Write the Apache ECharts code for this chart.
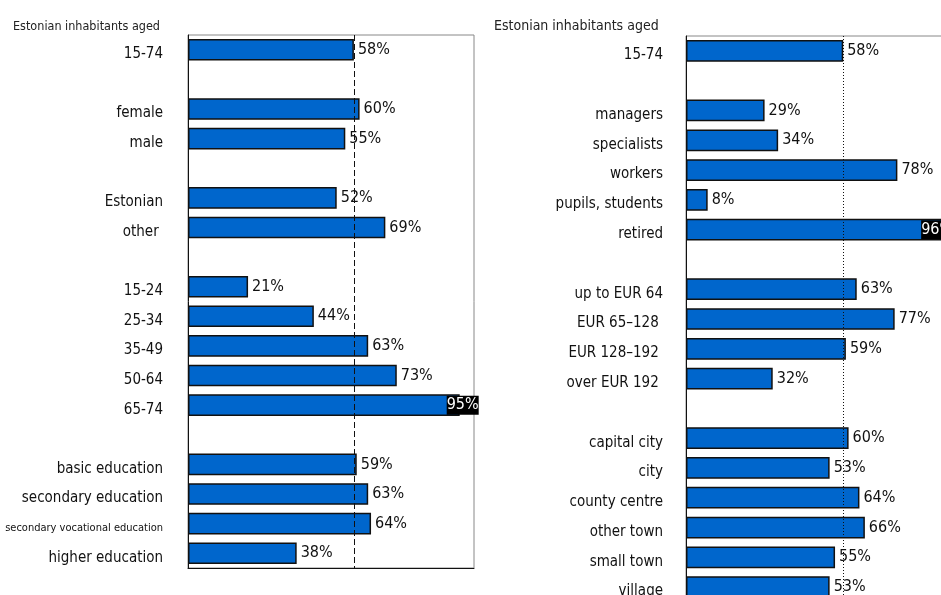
<!DOCTYPE html>
<html>
<head>
<meta charset="utf-8">
<script src="https://cdn.jsdelivr.net/npm/echarts@6/dist/echarts.min.js"></script>
<style>
  html, body { margin: 0; padding: 0; background: #fff; }
  #chart { width: 941px; height: 595px; }
</style>
</head>
<body>
<div id="chart"></div>
<script>
// left panel: by sex, nationality, age, education
const leftCategories = [
  '15-74', '',
  'female', 'male', '',
  'Estonian', 'other ', '',
  '15-24', '25-34', '35-49', '50-64', '65-74', '',
  'basic education', 'secondary education', 'secondary vocational education', 'higher education'
]
const leftValues = [58, null, 60, 55, null, 52, 69, null, 21, 44, 63, 73, 95, null, 59, 63, 64, 38]

// right panel: by occupation, income, place of residence
const rightCategories = [
  '15-74', '',
  'managers', 'specialists', 'workers', 'pupils, students', 'retired', '',
  'up to EUR 64', 'EUR 65\u2013128 ', 'EUR 128\u2013192 ', 'over EUR 192 ', '',
  'capital city', 'city', 'county centre', 'other town', 'small town', 'village'
]
const rightValues = [58, null, 29, 34, 78, 8, 96, null, 63, 77, 59, 32, null, 60, 53, 64, 66, 55, 53]

const averageValue = 58
const titleText = 'Estonian inhabitants aged'

const font = "'Liberation Sans Narrow', 'DejaVu Sans Condensed', sans-serif"
const barColor = '#0066CC'

function barData(values, hiOffset) {
  return values.map(v => {
    if (v === null) return '-'
    if (v > 90) {
      return {
        value: v,
        label: {
          color: '#fff',
          backgroundColor: '#000',
          padding: [2, 0, 1, 0],
          offset: [hiOffset, 0]
        }
      }
    }
    return v
  })
}

function categoryLabel(value) {
  return value === 'secondary vocational education' ? '{small|' + value + '}' : value
}

function makeSeries(idx, values, lineType, hiOffset) {
  return {
    type: 'bar',
    xAxisIndex: idx,
    yAxisIndex: idx,
    data: barData(values, hiOffset),
    barCategoryGap: '27%',
    itemStyle: {
      color: barColor,
      borderColor: '#111',
      borderWidth: 1.5
    },
    label: {
      show: true,
      position: 'right',
      distance: 4,
      formatter: '{c}%',
      fontFamily: font,
      fontSize: 16,
      color: '#111'
    },
    markLine: {
      silent: true,
      symbol: 'none',
      label: { show: false },
      lineStyle: { color: '#111', type: lineType, width: 1 },
      data: [{ xAxis: averageValue }]
    },
    z: 3
  }
}

const chart = echarts.init(document.getElementById('chart'))

function yAxisBase(margin) {
  return {
    type: 'category',
    inverse: true,
    axisTick: { show: false },
    axisLine: { show: true, lineStyle: { color: '#111', width: 1 } },
    axisLabel: {
      fontFamily: font,
      fontSize: 15,
      color: '#111',
      margin: margin,
      padding: [9, 0, 0, 0],
      formatter: categoryLabel,
      rich: {
        small: { fontFamily: font, fontSize: 11, color: '#111' }
      }
    }
  }
}

const xAxisBase = {
  type: 'value',
  min: 0,
  max: 100,
  axisLabel: { show: false },
  axisTick: { show: false },
  splitLine: { show: false },
  axisLine: { show: true, lineStyle: { color: '#111', width: 1 } }
}

chart.setOption({
  animation: false,
  textStyle: { fontFamily: font },
  title: [
    { text: titleText, left: 8, top: 15, textStyle: { fontFamily: font, fontSize: 12.5, fontWeight: 'normal', color: '#222' } },
    { text: titleText, left: 489, top: 14, textStyle: { fontFamily: font, fontSize: 14, fontWeight: 'normal', color: '#222' } }
  ],
  grid: [
    { left: 188, top: 35, width: 286, height: 533, outerBoundsMode: 'none', show: true, borderColor: '#888', borderWidth: 1 },
    { left: 686, top: 36, width: 271, height: 566, outerBoundsMode: 'none', show: true, borderColor: '#888', borderWidth: 1 }
  ],
  xAxis: [
    Object.assign({ gridIndex: 0 }, xAxisBase),
    Object.assign({ gridIndex: 1 }, xAxisBase)
  ],
  yAxis: [
    Object.assign({ gridIndex: 0, data: leftCategories }, yAxisBase(25)),
    Object.assign({ gridIndex: 1, data: rightCategories }, yAxisBase(23))
  ],
  series: [
    makeSeries(0, leftValues, [6, 3], -17),
    makeSeries(1, rightValues, [1, 2], -29)
  ]
})
</script>
</body>
</html>
